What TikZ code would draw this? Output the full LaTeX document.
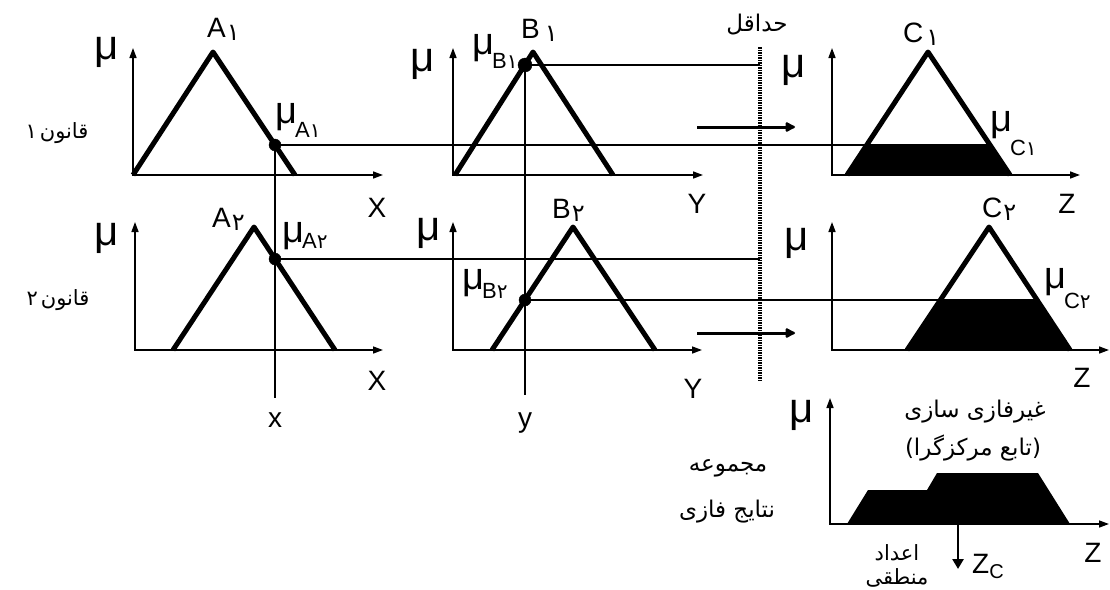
\documentclass[tikz,border=0pt]{standalone}
\usepackage{fontspec}
\setmainfont{Liberation Sans}
\newfontfamily\arabicfont[Script=Arabic]{DejaVu Sans}
\TeXXeTstate=1
\usetikzlibrary{arrows.meta}
\newcommand{\fsz}[1]{\fontsize{#1}{#1}\selectfont}
\newcommand{\pdig}[2][24]{{\arabicfont\fsz{#1}#2}}
\newcommand{\setname}[2]{#1\kern1pt\raisebox{-3pt}{\pdig{#2}}}
\newcommand{\musub}[3][14pt]{{\fsz{38}μ}\kern-2pt\raisebox{-#1}{\fsz{22}#2\pdig[20]{#3}}}
\tikzset{
  axes/.style={line width=1.5pt,{Triangle[length=10pt,width=7pt]}-{Triangle[length=10pt,width=7pt]}},
  memb/.style={line width=5pt,line join=round},
  proj/.style={line width=2.5pt},
  flow/.style={line width=3pt,-{Latex[round,length=12pt,width=12pt]}},
  cutline/.style={line width=4pt,dash pattern=on 1.5pt off 1pt},
  mulbl/.style={font=\fsz{42},anchor=base,inner sep=0pt},
  varlbl/.style={font=\fsz{28},anchor=base,inner sep=0pt},
  setlbl/.style={font=\fsz{28},anchor=base west,inner sep=0pt},
  sublbl/.style={anchor=base west,inner sep=0pt},
  farsi/.style={font=\arabicfont\fsz{23},inner sep=0pt},
  rulelbl/.style={font=\arabicfont\fsz{21},inner sep=0pt},
}
\begin{document}
\begin{tikzpicture}[x=1pt,y=-1pt]
        \useasboundingbox (0,0) rectangle (1110,589);
        % rule 1
        \coordinate (A1o) at (133,175);
        \coordinate (A1y) at (133,48);
        \coordinate (A1x) at (383,175);
        \coordinate (A1l) at (133,175);
        \coordinate (A1p) at (213,52);
        \coordinate (A1r) at (295,175);
        \coordinate (B1o) at (453,175);
        \coordinate (B1y) at (453,48);
        \coordinate (B1x) at (703,175);
        \coordinate (B1l) at (455,175);
        \coordinate (B1p) at (533,52);
        \coordinate (B1r) at (613,175);
        \coordinate (C1o) at (832,175);
        \coordinate (C1y) at (832,48);
        \coordinate (C1x) at (1080,175);
        \coordinate (C1l) at (847,175);
        \coordinate (C1p) at (928,52);
        \coordinate (C1r) at (1010,175);
        \coordinate (C1a) at (867,145);
        \coordinate (C1b) at (990,145);
        % rule 2
        \coordinate (A2o) at (135,350);
        \coordinate (A2y) at (135,222);
        \coordinate (A2x) at (383,350);
        \coordinate (A2l) at (173,350);
        \coordinate (A2p) at (254,227);
        \coordinate (A2r) at (335,350);
        \coordinate (B2o) at (453,350);
        \coordinate (B2y) at (453,222);
        \coordinate (B2x) at (702,350);
        \coordinate (B2l) at (492,350);
        \coordinate (B2p) at (573,227);
        \coordinate (B2r) at (655,350);
        \coordinate (C2o) at (832,350);
        \coordinate (C2y) at (832,222);
        \coordinate (C2x) at (1109,350);
        \coordinate (C2l) at (907,350);
        \coordinate (C2p) at (989,227);
        \coordinate (C2r) at (1070,350);
        \coordinate (C2a) at (940,300);
        \coordinate (C2b) at (1037,300);
        % aggregate
        \coordinate (Do) at (830,524);
        \coordinate (Dy) at (830,398);
        \coordinate (Dx) at (1109,524);
        % inputs, minimum and flow
        \coordinate (mA1) at (275,145);
        \coordinate (mB1) at (525,65);
        \coordinate (mA2) at (275,259);
        \coordinate (mB2) at (525,300);
        \coordinate (xb) at (275,398);
        \coordinate (yb) at (525,395);
        \coordinate (cutT) at (760,47);
        \coordinate (cutB) at (760,382);
        \coordinate (B1e) at (760,65);
        \coordinate (A2e) at (760,259);
        \coordinate (f1s) at (697,127);
        \coordinate (f1e) at (795,127);
        \coordinate (f2s) at (697,333);
        \coordinate (f2e) at (795,333);
        \coordinate (Zs) at (958,524);
        \coordinate (Ze) at (958,569);

        \fill[black] (C1l) -- (C1a) -- (C1b) -- (C1r) -- cycle;
        \fill[black] (C2l) -- (C2a) -- (C2b) -- (C2r) -- cycle;
        \fill[black] (847,524) -- (868,490) -- (927,490) -- (937,473) -- (1038,473) -- (1070,524) -- cycle;

        \draw[axes] (A1y) -- (A1o) -- (A1x);
        \draw[axes] (B1y) -- (B1o) -- (B1x);
        \draw[axes] (C1y) -- (C1o) -- (C1x);
        \draw[axes] (A2y) -- (A2o) -- (A2x);
        \draw[axes] (B2y) -- (B2o) -- (B2x);
        \draw[axes] (C2y) -- (C2o) -- (C2x);
        \draw[axes] (Dy) -- (Do) -- (Dx);

        \draw[memb] (A1l) -- (A1p) -- (A1r);
        \draw[memb] (B1l) -- (B1p) -- (B1r);
        \draw[memb] (C1l) -- (C1p) -- (C1r);
        \draw[memb] (A2l) -- (A2p) -- (A2r);
        \draw[memb] (B2l) -- (B2p) -- (B2r);
        \draw[memb] (C2l) -- (C2p) -- (C2r);

        \draw[proj] (mA1) -- (xb);
        \draw[proj] (mB1) -- (yb);
        \draw[proj] (mA1) -- (C1b);
        \draw[proj] (mB1) -- (B1e);
        \draw[proj] (mA2) -- (A2e);
        \draw[proj] (mB2) -- (C2b);
        \draw[cutline] (cutT) -- (cutB);
        \draw[flow] (f1s) -- (f1e);
        \draw[flow] (f2s) -- (f2e);
        \draw[line width=2.5pt,-{Triangle[length=10pt,width=11pt]}] (Zs) -- (Ze);

        \filldraw[black] (mA1) circle (6pt);
        \filldraw[black] (mB1) circle (7pt);
        \filldraw[black] (mA2) circle (6pt);
        \filldraw[black] (mB2) circle (6pt);

        \node[mulbl] (muA1) at (107,59) {μ};
        \node[mulbl] (muB1) at (423,71) {μ};
        \node[mulbl] (muC1) at (794,77) {μ};
        \node[mulbl] (muA2) at (107,245) {μ};
        \node[mulbl] (muB2) at (429,240) {μ};
        \node[mulbl] (muC2) at (797,250) {μ};
        \node[mulbl] (muD) at (802,422) {μ};

        \node[setlbl] (sA1) at (207,37) {\setname{A}{۱}};
        \node[setlbl] (sB1) at (521,38) {\setname{B\kern4pt}{۱}};
        \node[setlbl] (sC1) at (903,42) {\setname{C\kern2pt}{۱}};
        \node[setlbl] (sA2) at (212,227) {\setname{A}{۲}};
        \node[setlbl] (sB2) at (552,218) {\setname{B}{۲}};
        \node[setlbl] (sC2) at (982,217) {\setname{C}{۲}};

        \node[sublbl] (vA1) at (275,123) {\musub[14pt]{A}{۱}};
        \node[sublbl] (vB1) at (472,54) {\musub[14pt]{B}{۱}};
        \node[sublbl] (vC1) at (990,131) {\musub[24pt]{C}{۱}};
        \node[sublbl] (vA2) at (282,242) {\musub[6pt]{A}{۲}};
        \node[sublbl] (vB2) at (462,289) {\musub[9pt]{B}{۲}};
        \node[sublbl] (vC2) at (1044,288) {\musub[20pt]{C}{۲}};

        \node[varlbl] (X1) at (377,217) {X};
        \node[varlbl] (Y1) at (697,213) {Y};
        \node[varlbl] (Z1) at (1067,213) {Z};
        \node[varlbl] (X2) at (377,390) {X};
        \node[varlbl] (Y2) at (693,398) {Y};
        \node[varlbl] (Z2) at (1082,387) {Z};
        \node[varlbl] (Z3) at (1093,562) {Z};
        \node[varlbl] (xin) at (275,427) {x};
        \node[varlbl] (yin) at (525,427) {y};
        \node[varlbl,anchor=base west] (zc) at (972,573) {Z\raisebox{-5pt}{\fsz{20}C}};

        \node[rulelbl] (rule1) at (57,133) {\beginR قانون\kern3pt ۱\endR};
        \node[rulelbl] (rule2) at (58,300) {\beginR قانون\kern3pt ۲\endR};
        \node[farsi] (minlbl) at (757,25) {\beginR حداقل\endR};
        \node[farsi] (agg1) at (728,468) {\beginR مجموعه\endR};
        \node[farsi] (agg2) at (727,512) {\beginR نتایج فازی\endR};
        \node[farsi] (defz1) at (975,412) {\beginR غیرفازی سازی\endR};
        \node[farsi] (defz2) at (973,448) {)\beginR تابع مرکزگرا\endR(};
        \node[farsi,font=\arabicfont\fsz{21}] (crisp1) at (897,553) {\beginR اعداد\endR};
        \node[farsi,font=\arabicfont\fsz{21}] (crisp2) at (897,578) {\beginR منطقی\endR};
\end{tikzpicture}
\end{document}
